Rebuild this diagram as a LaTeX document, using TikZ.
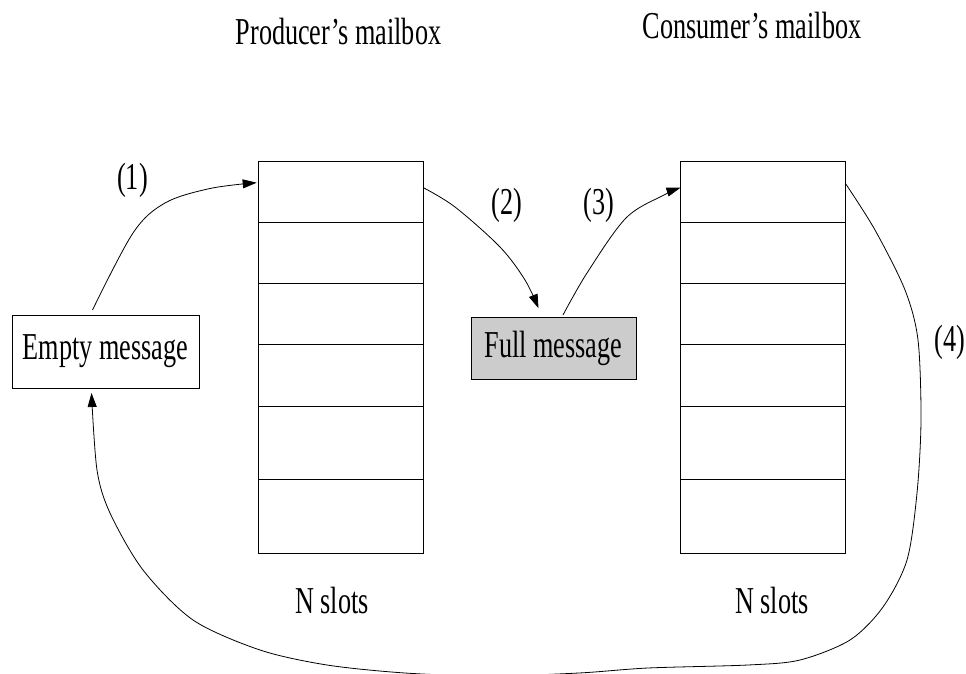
\documentclass[tikz,border=0pt]{standalone}
\usepackage{fontspec}
\setmainfont{Liberation Serif}[FakeStretch=0.69]
\usetikzlibrary{arrows.meta}
\begin{document}
\begin{tikzpicture}[x=1pt,y=-1pt,
  font=\fontsize{38}{42}\selectfont,
  slot/.style={draw, line width=0.9pt, minimum width=165pt, inner sep=0pt, outer sep=0pt},
  msg/.style={draw, line width=0.9pt, inner sep=0pt, outer sep=0pt},
  lbl/.style={anchor=base, inner sep=0pt},
  arr/.style={line width=0.8pt, -{Triangle[length=14pt,width=9pt]}},
  ]
\useasboundingbox (0,0) rectangle (966,674);

% Producer's mailbox slots
\node[slot, minimum height=61pt] (p1) at (340.5,191.5) {};
\node[slot, minimum height=61pt] (p2) at (340.5,252.5) {};
\node[slot, minimum height=61pt] (p3) at (340.5,313.5) {};
\node[slot, minimum height=62pt] (p4) at (340.5,375) {};
\node[slot, minimum height=73pt] (p5) at (340.5,442.5) {};
\node[slot, minimum height=74pt] (p6) at (340.5,516) {};

% Consumer's mailbox slots
\node[slot, minimum height=61pt] (c1) at (763,191.5) {};
\node[slot, minimum height=61pt] (c2) at (763,252.5) {};
\node[slot, minimum height=61pt] (c3) at (763,313.5) {};
\node[slot, minimum height=62pt] (c4) at (763,375) {};
\node[slot, minimum height=73pt] (c5) at (763,442.5) {};
\node[slot, minimum height=74pt] (c6) at (763,516) {};

% messages
\node[msg, minimum width=187pt, minimum height=73pt] (empty) at (105.5,351.5) {Empty message};
\node[msg, fill=black!20, minimum width=165pt, minimum height=62pt] (full) at (553.5,348) {Full message};

% labels
\node[lbl] (t1) at (338.5,45) {Producer’s mailbox};
\node[lbl] (t2) at (752,39) {Consumer’s mailbox};
\node[lbl] (ns1) at (332,613) {N slots};
\node[lbl] (ns2) at (772,613) {N slots};
\node[lbl] (l1) at (132.5,189) {(1)};
\node[lbl] (l2) at (507,214) {(2)};
\node[lbl] (l3) at (599,214) {(3)};
\node[lbl] (l4) at (950,351) {(4)};

% connector end points
\coordinate (a1s) at ([xshift=-13pt,yshift=5pt]empty.north);
\coordinate (a1e) at ([xshift=-1.3pt,yshift=8.8pt]p1.west);
\coordinate (a2s) at ([yshift=4pt]p1.east);
\coordinate (a2e) at ([xshift=-15pt,yshift=8.7pt]full.north);
\coordinate (a3s) at ([xshift=9.5pt,yshift=2pt]full.north);
\coordinate (a3e) at ([yshift=3.8pt]c1.west);
\coordinate (a4s) at ([yshift=8pt]c1.east);
\coordinate (a4e) at ([xshift=-14pt,yshift=-5pt]empty.south);

% (1)
\draw[arr] plot[smooth, tension=0.55] coordinates {(a1s) (133,233) (165,203) (210,188.5) (a1e)};
% (2)
\draw[arr] plot[smooth, tension=0.55] coordinates {(a2s) (455,207) (500,247) (525,280) (a2e)};
% (3)
\draw[arr] plot[smooth, tension=0.55] coordinates {(a3s) (587,273) (626,218) (664,195) (a3e)};
% (4)
\draw[arr] plot[smooth, tension=0.5] coordinates {(a4s) (875,230) (905,290) (918,340) (921,420) (917,493) (907,560) (883,607) (850,640) (800,660) (748,665) (648,668) (579,673) (490,676) (405,673) (327,665) (260,650) (193,620) (143,570) (110,513) (97,470) (a4e)};
\end{tikzpicture}
\end{document}
